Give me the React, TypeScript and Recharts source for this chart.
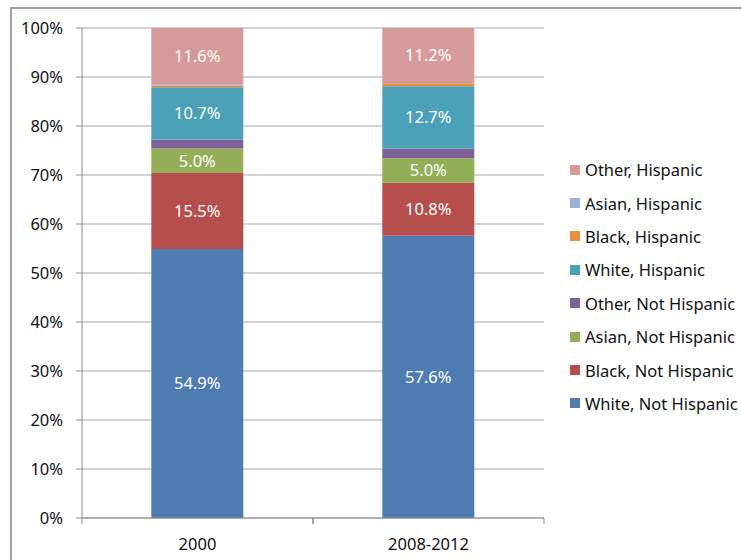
import { BarChart, Bar, XAxis, YAxis, CartesianGrid, LabelList } from 'recharts';

const periods = ['2000', '2008-2012'];

// stacked bottom to top
const seriesNames = [
  'White, Not Hispanic',
  'Black, Not Hispanic',
  'Asian, Not Hispanic',
  'Other, Not Hispanic',
  'White, Hispanic',
  'Black, Hispanic',
  'Asian, Hispanic',
  'Other, Hispanic',
];
const seriesKeys = ['whiteNH', 'blackNH', 'asianNH', 'otherNH', 'whiteH', 'blackH', 'asianH', 'otherH'];
const seriesColors = ['#4E7CB2', '#B54E4C', '#93AE57', '#7C6298', '#4AA1B8', '#E8903F', '#9AB0D6', '#D69A9A'];
const labelled = [true, true, true, false, true, false, false, true];

const whiteNH = [54.9, 57.6];
const blackNH = [15.5, 10.8];
const asianNH = [5.0, 5.0];
const otherNH = [1.8, 2.0];
const whiteH = [10.7, 12.7];
const blackH = [0.3, 0.6];
const asianH = [0.2, 0.1];
const otherH = [11.6, 11.2];

const yTicks = [0, 10, 20, 30, 40, 50, 60, 70, 80, 90, 100];

const seriesValues = [whiteNH, blackNH, asianNH, otherNH, whiteH, blackH, asianH, otherH];

const data = periods.map((p, i) => {
  const row: Record<string, string | number> = { period: p };
  seriesKeys.forEach((k, j) => {
    row[k] = seriesValues[j][i];
  });
  return row;
});

const FONT = '"Noto Sans", "DejaVu Sans", sans-serif';
const FS = 16.5;
const AXIS = '#8c8c8c';

function CategoryTick(props: any) {
  const { x, y, payload } = props;
  const half = payload.offset || 0;
  const top = y - 20;
  return (
    <g>
      <line x1={x - half} y1={top} x2={x - half} y2={top + 6} stroke={AXIS} />
      <line x1={x + half} y1={top} x2={x + half} y2={top + 6} stroke={AXIS} />
      <text x={x} y={y} dy="0.71em" textAnchor="middle" fill="#111" fontSize={FS} fontFamily={FONT}>
        {payload.value}
      </text>
    </g>
  );
}

export default function App() {
  return (
    <div style={{ position: 'absolute', left: 0, top: 0, width: 741, height: 560, overflow: 'hidden', background: '#fff' }}>
      <div
        style={{
          position: 'absolute', left: 10, top: 7, width: 760, height: 600,
          borderTop: '2px solid #a0a0a0', borderLeft: '2px solid #a0a0a0',
        }}
      />
      <BarChart
        width={741}
        height={560}
        data={data}
        margin={{ top: 28, right: 197, left: 0, bottom: 12 }}
        barCategoryGap="30%"
        style={{ position: 'absolute', left: 0, top: 0, fontFamily: FONT }}
      >
        <CartesianGrid horizontal vertical={false} stroke="#a6a6a6" />
        <XAxis
          dataKey="period"
          height={30}
          axisLine={{ stroke: AXIS }}
          tickLine={false}
          tickSize={6}
          tickMargin={14}
          tick={<CategoryTick />}
        />
        <YAxis
          width={82}
          domain={[0, 100]}
          ticks={yTicks}
          interval={0}
          tickFormatter={(v: number) => `${v}%`}
          axisLine={{ stroke: AXIS }}
          tickLine={{ stroke: AXIS }}
          tickSize={6}
          tickMargin={13}
          tick={{ fill: '#111', fontSize: FS, fontFamily: FONT }}
        />
        {seriesKeys.map((k, j) => (
          <Bar key={k} dataKey={k} name={seriesNames[j]} stackId="a" fill={seriesColors[j]} isAnimationActive={false}>
            {labelled[j] && (
              <LabelList
                dataKey={k}
                position="center"
                fill="#ffffff"
                fontSize={FS}
                fontFamily={FONT}
                formatter={(v: any) => `${Number(v).toFixed(1)}%`}
              />
            )}
          </Bar>
        ))}
      </BarChart>
      <div style={{ position: 'absolute', left: 570, top: 153, fontFamily: FONT, fontSize: FS, color: '#111' }}>
        {seriesNames
          .map((n, j) => ({ n, c: seriesColors[j] }))
          .reverse()
          .map(({ n, c }) => (
            <div key={n} style={{ height: 33.4, display: 'flex', alignItems: 'center', whiteSpace: 'nowrap' }}>
              <span style={{ display: 'inline-block', width: 10, height: 10, background: c, marginRight: 5 }} />
              <span>{n}</span>
            </div>
          ))}
      </div>
    </div>
  );
}
